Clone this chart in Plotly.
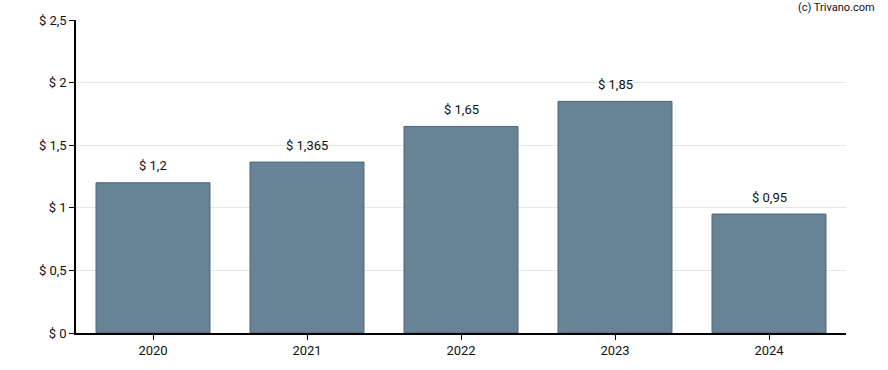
import plotly.graph_objects as go

years = ["2020", "2021", "2022", "2023", "2024"]
values = [1.2, 1.365, 1.65, 1.85, 0.95]
labels = ["$ 1,2", "$ 1,365", "$ 1,65", "$ 1,85", "$ 0,95"]
tick_vals = [0, 0.5, 1, 1.5, 2, 2.5]
tick_text = ["$ 0", "$ 0,5", "$ 1", "$ 1,5", "$ 2", "$ 2,5"]

fig = go.Figure()
fig.add_trace(go.Bar(
    x=years, y=values,
    marker=dict(color="rgba(94,122,142,0.93)", line=dict(color="#4a6378", width=1)),
    hoverinfo="skip",
))
# category axis: annotation x given as category index
for i, (v, t) in enumerate(zip(values, labels)):
    fig.add_annotation(x=i, y=v, text=t, showarrow=False, yshift=17,
                       font=dict(family="Roboto", size=13, color="#111"))
fig.add_annotation(xref="paper", yref="paper", x=1.040, y=1.0397, xanchor="right", yanchor="middle",
                   text="(c) Trivano.com", showarrow=False,
                   font=dict(family="Roboto", size=11, color="#111"))

fig.update_layout(
    width=888, height=370,
    margin=dict(l=76, r=42, t=20, b=35),
    paper_bgcolor="white", plot_bgcolor="white",
    bargap=0.26,
    showlegend=False,
    font=dict(family="Roboto", size=13, color="#111"),
)
fig.update_xaxes(type="category", range=[-0.5, len(years) - 0.5],
                 showline=True, linecolor="black", linewidth=1.5, ticks="outside",
                 ticklen=5, tickcolor="black", showgrid=False,
                 tickfont=dict(size=13))
fig.update_yaxes(range=[0, 2.5], tickvals=tick_vals, ticktext=tick_text,
                 showline=True, linecolor="black", linewidth=1.5, ticks="outside",
                 ticklen=5, tickcolor="black", showgrid=True, gridcolor="#e6e6e6",
                 zeroline=False, tickfont=dict(size=13), automargin=False)

fig.write_html("out.html", post_script="document.body.style.margin='0';",
               config={"displayModeBar": False})
